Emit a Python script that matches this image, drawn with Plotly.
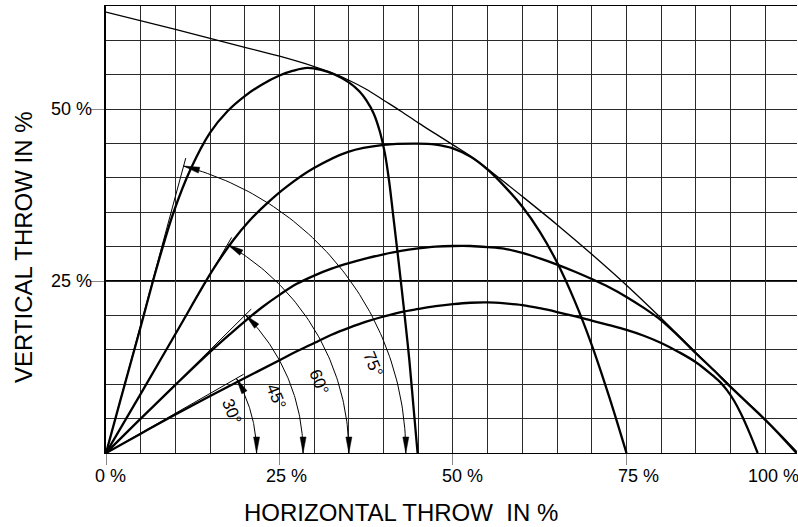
import numpy as np
import plotly.graph_objects as go

# ---------------- data ----------------
angles = [30, 45, 60, 75]
arc_radius = [21.7, 28.4, 35.0, 43.2]
angle_labels = ["30°", "45°", "60°", "75°"]

x30 = [0, 5, 10, 15, 20, 25, 27.5, 30, 32.5, 35, 37.5, 40, 42.5, 45, 47.5, 50, 52.5, 55, 57.5, 60,
       62.5, 65, 67.5, 70, 72.5, 75, 77.5, 80, 82.5, 85, 87.5, 88.5, 89.5, 90.5, 91.5, 92.7, 93.9]
y30 = [0, 2.8, 5.6, 8.3, 10.9, 13.5, 14.8, 16.0, 17.2, 18.2, 19.1, 19.85, 20.5, 20.95, 21.35, 21.65, 21.85, 21.9, 21.75, 21.5,
       21.05, 20.5, 19.9, 19.25, 18.6, 17.9, 17.05, 16.0, 14.7, 13.2, 11.2, 10.3, 9.1, 7.6, 5.7, 3.0, 0]

x45 = [0, 5, 10, 15, 18, 20.3, 22.5, 25, 27.5, 30, 32.5, 35, 37.5, 40, 42.5, 45, 47.5, 50, 52.5, 55, 57.5,
       60, 62.5, 65, 67.5, 70, 72.5, 75, 77.5, 80, 82.5, 85, 87.5, 90, 92.5, 95, 97.5, 99.5]
y45 = [0, 5.0, 9.9, 14.7, 17.4, 19.4, 21.2, 23.0, 24.6, 25.8, 26.8, 27.6, 28.3, 28.9, 29.4, 29.75, 30.0, 30.1, 30.1, 29.95, 29.7,
       29.1, 28.3, 27.4, 26.4, 25.3, 24.1, 22.7, 21.1, 19.3, 17.0, 14.5, 12.1, 9.6, 7.2, 4.8, 2.2, 0]

x60 = [0, 5, 10.4, 15.5, 18.3, 20.5, 23.2, 26, 29.9, 34.9, 40, 44.8, 47.5, 50, 52.5, 55, 57.5, 60, 62.5, 65, 67.5, 70, 72.5, 75]
y60 = [0, 8.6, 18.0, 26.8, 30.9, 33.6, 36.3, 38.7, 41.4, 43.8, 44.8, 45.0, 44.85, 44.3, 43.1, 41.2, 38.7, 35.8, 32.2, 27.7, 22.2, 15.7, 8.2, 0]

x75 = [0, 2, 4.9, 7.3, 9.7, 12.2, 15, 17.5, 20, 22.5, 25, 27, 29, 31, 33, 35, 36.5, 37.5, 38.6, 39.5, 40.2, 40.8, 41.4, 42.2, 43.0, 43.7, 44.3, 44.9]
y75 = [0, 7.4, 18.0, 26.9, 34.9, 41.3, 46.6, 49.7, 51.9, 53.6, 54.9, 55.6, 56.0, 55.7, 55.0, 53.9, 52.6, 51.3, 49.3, 46.6, 43.5, 39.5, 34.4, 27.5, 20.3, 13.6, 6.8, 0]

env_x = [0, 10, 20, 25, 30, 32.5, 35, 37.5, 40, 42.5, 45, 47.5, 50, 52.5, 55, 60, 65, 70, 75, 80, 85, 90, 95, 99.7]
env_y = [64.1, 61.6, 59.0, 57.7, 56.2, 55.3, 54.2, 52.9, 51.3, 49.7, 48.0, 46.4, 44.8, 43.2, 41.3, 37.3, 33.2, 28.9, 24.4, 19.6, 14.6, 9.7, 4.9, 0]

x_tick_vals = [0, 25, 50, 75, 100]
x_tick_text = ["0 %", "25 %", "50 %", "75 %", "100 %"]
y_tick_vals = [25, 50]
y_tick_text = ["25 %", "50 %"]
heavy_line_y = 25
x_title = "HORIZONTAL THROW\u00a0 IN %"
y_title = "VERTICAL THROW IN %"

# ---------------- layout geometry ----------------
W, H = 798, 527
ML, MR, MT, MB = 106, 1, 6, 74
PW, PH = W - ML - MR, H - MT - MB
XMAX, YMAX = 99.57, 65
SX, SY = PW / XMAX, PH / YMAX
FONT = "Liberation Sans, Arial, sans-serif"

fig = go.Figure()

curve_style = dict(color="black", width=2.3)
for xs, ys in [(x30, y30), (x45, y45), (x60, y60), (x75, y75)]:
    fig.add_trace(go.Scatter(x=xs, y=ys, mode="lines", line=dict(shape="spline", smoothing=1.0, **curve_style),
                             hoverinfo="skip", showlegend=False))
fig.add_trace(go.Scatter(x=env_x, y=env_y, mode="lines",
                         line=dict(color="black", width=1.3, shape="spline", smoothing=1.0),
                         hoverinfo="skip", showlegend=False))

AL, AW = 16.0, 3.0  # arrowhead length / half width in px

def arrow_poly(tip, direction):
    tx, ty = tip[0] * SX, tip[1] * SY
    dx, dy = direction
    bx, by = tx - AL * dx, ty - AL * dy
    px_, py_ = -dy, dx
    pts = [(tx, ty), (bx + AW * px_, by + AW * py_), (bx - AW * px_, by - AW * py_), (tx, ty)]
    return [p[0] / SX for p in pts], [p[1] / SY for p in pts]

for ang, r, lab in zip(angles, arc_radius, angle_labels):
    a = np.radians(ang)
    rt = r + 1.2
    fig.add_trace(go.Scatter(x=[0, rt * np.cos(a)], y=[0, rt * np.sin(a)], mode="lines",
                             line=dict(color="black", width=1), hoverinfo="skip", showlegend=False))
    th = np.linspace(a, 0, 80)
    fig.add_trace(go.Scatter(x=r * np.cos(th), y=r * np.sin(th), mode="lines",
                             line=dict(color="black", width=1), hoverinfo="skip", showlegend=False))
    for tip, d in [((r * np.cos(a), r * np.sin(a)), (-np.sin(a), np.cos(a))), ((r, 0.0), (0.0, -1.0))]:
        ax_, ay_ = arrow_poly(tip, d)
        fig.add_trace(go.Scatter(x=ax_, y=ay_, mode="lines", fill="toself", fillcolor="black",
                                 line=dict(color="black", width=0.5), hoverinfo="skip", showlegend=False))
    rl = r - 2.6
    la = np.radians(18.5)
    fig.add_annotation(x=rl * np.cos(la), y=rl * np.sin(la), xref="x", yref="y", text=lab,
                       showarrow=False, textangle=68, font=dict(family=FONT, size=17, color="black"))

# tick labels
x_label_shift = [-12.7, -15.7, -12.7, -10.3, -54]
for v, t, s in zip(x_tick_vals, x_tick_text, x_label_shift):
    fig.add_annotation(x=v / XMAX, y=0, xref="paper", yref="paper", text=t, showarrow=False,
                       xanchor="left", yanchor="middle", xshift=s, yshift=-23,
                       font=dict(family=FONT, size=18, color="black"))
for v, t in zip(y_tick_vals, y_tick_text):
    fig.add_annotation(x=0, y=v, xref="paper", yref="y", text=t, showarrow=False,
                       xanchor="right", yanchor="middle", xshift=-12,
                       font=dict(family=FONT, size=18, color="black"))

# axis titles
fig.add_annotation(x=(401 - ML) / PW, y=(H - MB - 512) / PH, xref="paper", yref="paper", text=x_title,
                   showarrow=False, xanchor="center", yanchor="middle",
                   font=dict(family=FONT, size=24, color="black"))
fig.add_annotation(x=(24 - ML) / PW, y=(H - MB - 247) / PH, xref="paper", yref="paper", text=y_title,
                   showarrow=False, textangle=-90, xanchor="center", yanchor="middle",
                   font=dict(family=FONT, size=24, color="black"))

fig.add_shape(type="line", xref="paper", yref="y", x0=0, x1=1, y0=heavy_line_y, y1=heavy_line_y,
              line=dict(color="black", width=2), layer="between")

grid_col = "#2a2a2a"
fig.update_layout(
    width=W, height=H, margin=dict(l=ML, r=MR, t=MT, b=MB, autoexpand=False),
    paper_bgcolor="white", plot_bgcolor="white", showlegend=False,
    xaxis=dict(range=[0, XMAX], tickvals=x_tick_vals[:4], showticklabels=False, ticks="outside",
               ticklen=11, tickcolor="#888", tickwidth=1, showgrid=True, gridcolor=grid_col, gridwidth=1,
               minor=dict(tick0=0, dtick=5, showgrid=True, gridcolor=grid_col, gridwidth=1, ticks=""),
               zeroline=False, showline=True, linecolor="black", linewidth=1, mirror=True, fixedrange=True),
    yaxis=dict(range=[0, YMAX], tickvals=y_tick_vals, showticklabels=False, ticks="outside",
               ticklen=14, tickcolor="#888", tickwidth=1, showgrid=True, gridcolor=grid_col, gridwidth=1,
               minor=dict(tick0=0, dtick=5, showgrid=True, gridcolor=grid_col, gridwidth=1, ticks=""),
               zeroline=False, showline=True, linecolor="black", linewidth=2, mirror=False, fixedrange=True),
)

fig.write_html("out.html", config={"displayModeBar": False},
               post_script="document.body.style.margin='0px';document.body.style.padding='0px';")
